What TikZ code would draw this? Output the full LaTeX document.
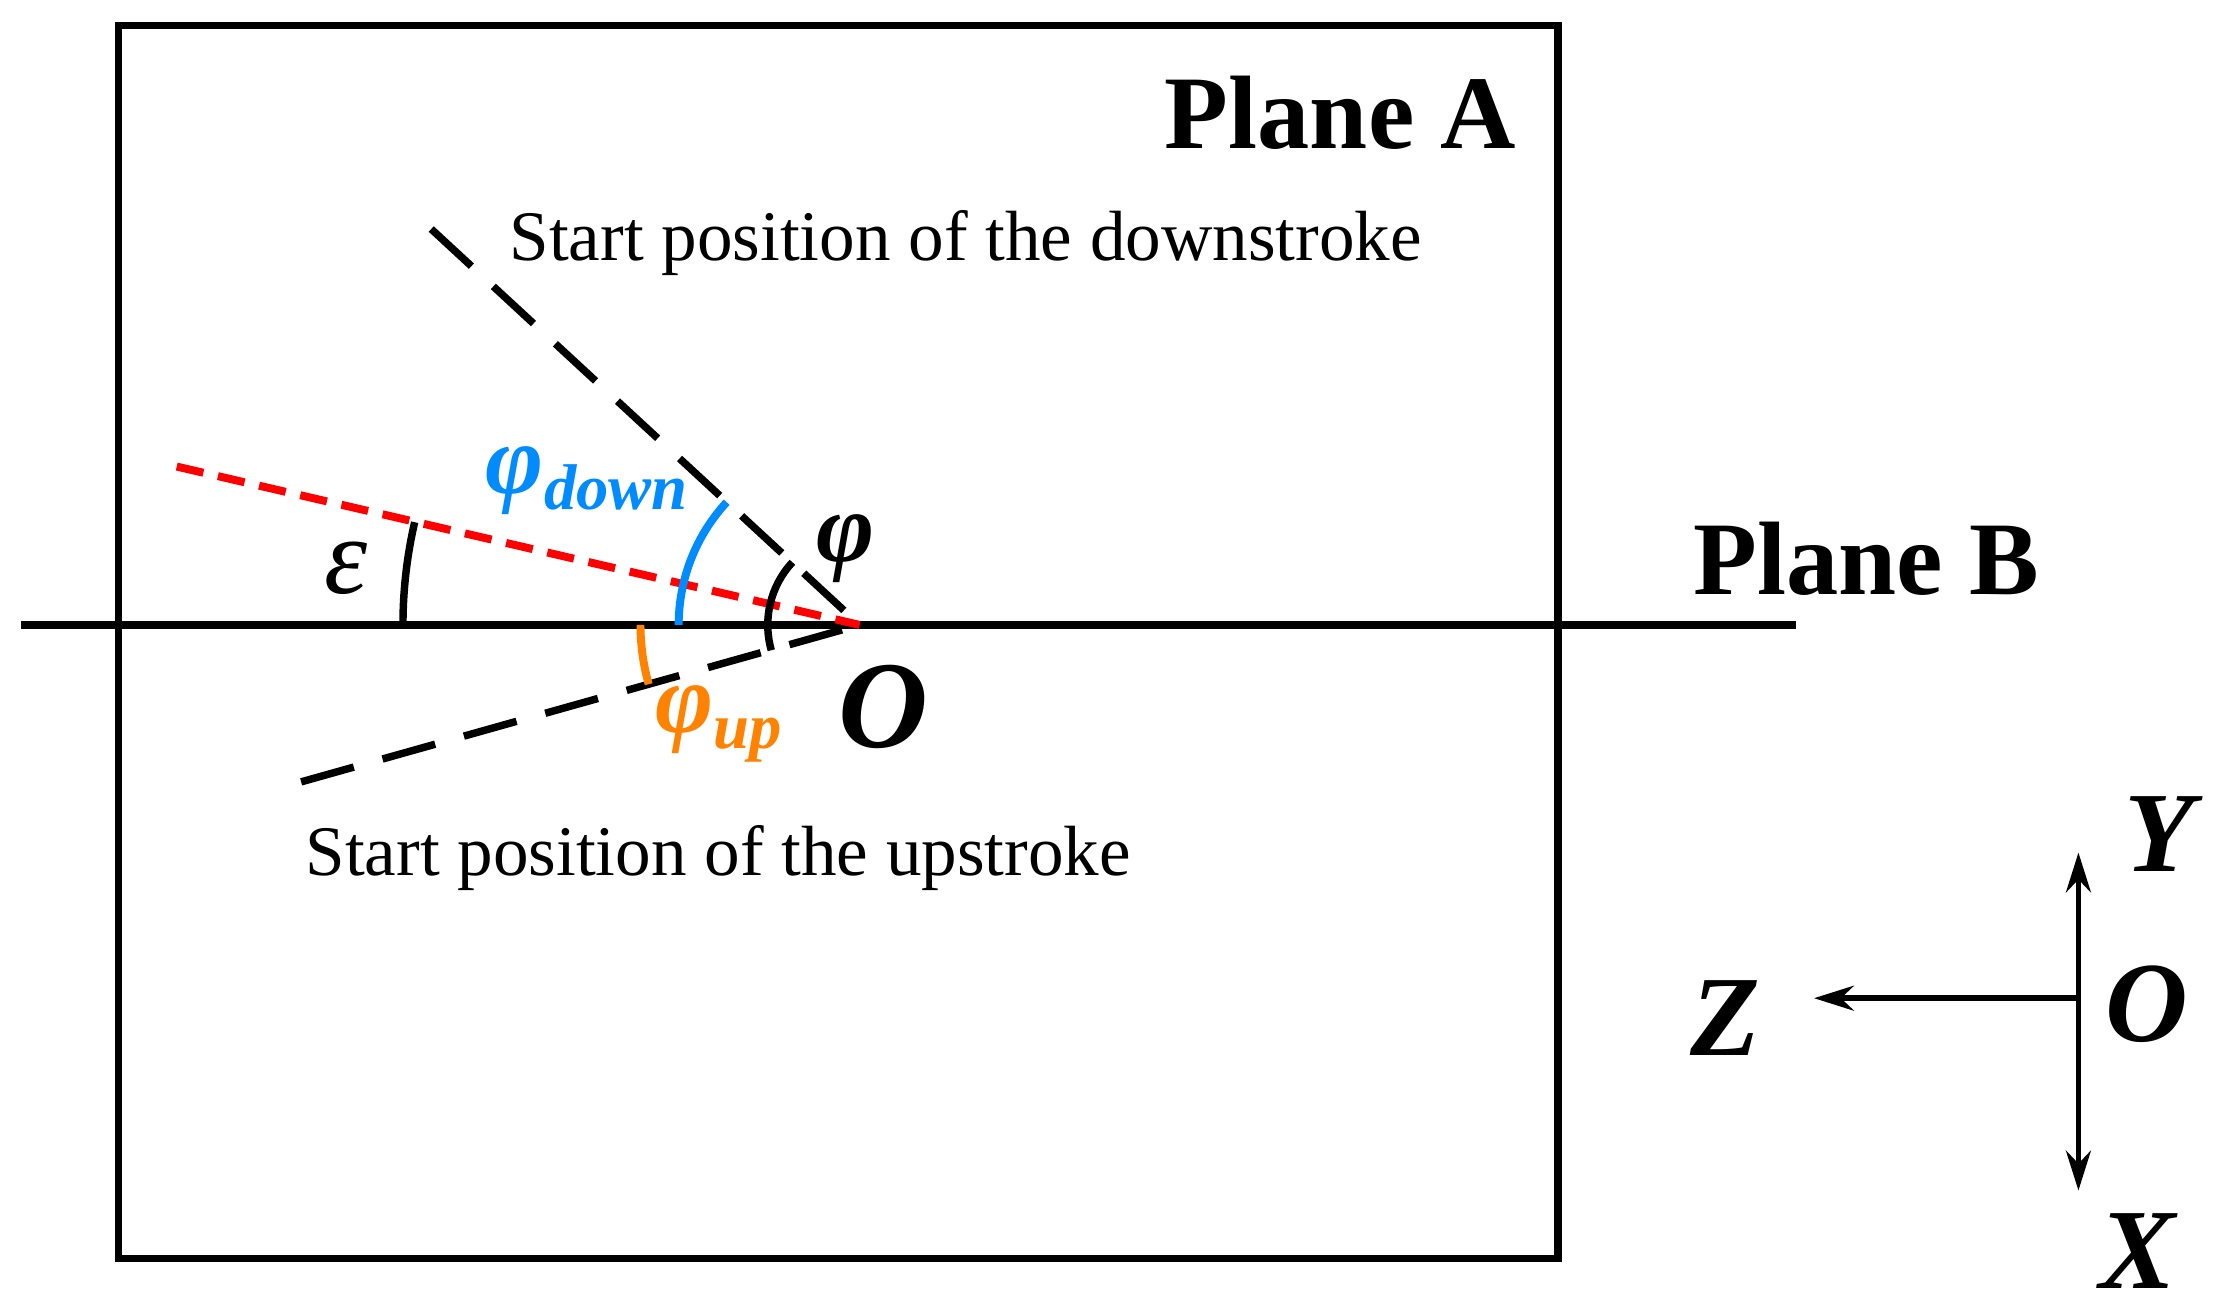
\documentclass[tikz,border=0pt]{standalone}
\usepackage{fontspec}
\setmainfont{Liberation Serif}
\usetikzlibrary{arrows.meta}
\definecolor{myblue}{RGB}{0,140,255}
\definecolor{myorange}{RGB}{255,130,0}
\newcommand{\phisub}[1]{\textbf{\textit{φ}}\raisebox{-0.35ex}{\fontsize{13}{15}\selectfont\textbf{\textit{#1}}}}
\begin{document}
\begin{tikzpicture}[x=0.01cm,y=-0.01cm,
  ln/.style={line width=1.5pt},
  dsh/.style={line width=1.5pt,dash pattern=on 11pt off 6pt},
  lbl/.style={font=\fontsize{14.3}{17}\selectfont},
  big/.style={font=\fontsize{21}{25}\selectfont\bfseries},
  ax/.style={font=\fontsize{23}{27}\selectfont\bfseries\itshape},
  arr/.style={line width=1.1pt,-{Stealth[length=8pt,width=5pt]}}]
\useasboundingbox (0,0) rectangle (1568,928);
\draw[ln] (84,18) rectangle (1102,890);
\coordinate (O) at (608,442);
\coordinate (L) at (15,442);
\coordinate (R) at (1270,442);
\coordinate (U) at (305,162);
\coordinate (D) at (213,553);
\coordinate (E) at (125,330);
\draw[ln] (L) -- (R);
\draw[dsh] (U) -- (O);
\draw[dsh] (D) -- (O);
\draw[line width=1.6pt,red,dash pattern=on 5.5pt off 3pt] (E) -- (O);
\draw[ln] ([shift={(180:323)}]O) arc[start angle=180,end angle=193,radius=323];
\draw[line width=1.6pt,myblue] ([shift={(180:128)}]O) arc[start angle=180,end angle=222.7,radius=128];
\draw[ln] ([shift={(223:65)}]O) arc[start angle=223,end angle=164,radius=65];
\draw[line width=1.6pt,myorange] ([shift={(180:155)}]O) arc[start angle=180,end angle=164.3,radius=155];
\node[big] (pa) at (948,80) {Plane A};
\node[big] (pb) at (1320,395) {Plane B};
\node[lbl] (sd) at (683,172) {Start position of the downstroke};
\node[lbl] (su) at (508,607) {Start position of the upstroke};
\node[text=myblue,font=\fontsize{20}{24}\selectfont] (pd) at (415,340) {\phisub{down}};
\node[font=\fontsize{20}{24}\selectfont\bfseries\itshape] (ph) at (598,388) {φ};
\node[font=\fontsize{22}{26}\selectfont\itshape] (ep) at (245,402) {ε};
\node[text=myorange,font=\fontsize{20}{24}\selectfont] (pu) at (508,512) {\phisub{up}};
\node[font=\fontsize{25}{29}\selectfont\bfseries\itshape] (ol) at (625,500) {O};
\coordinate (C) at (1470,706);
\coordinate (Yt) at (1470,603);
\coordinate (Xt) at (1470,842);
\coordinate (Zt) at (1283,706);
\draw[arr] (C) -- (Yt);
\draw[arr] (C) -- (Xt);
\draw[arr] (C) -- (Zt);
\node[ax] (Y) at (1527,590) {Y};
\node[ax] (O2) at (1518,710) {O};
\node[ax] (Z) at (1220,720) {Z};
\node[ax] (X) at (1512,885) {X};
\end{tikzpicture}
\end{document}
